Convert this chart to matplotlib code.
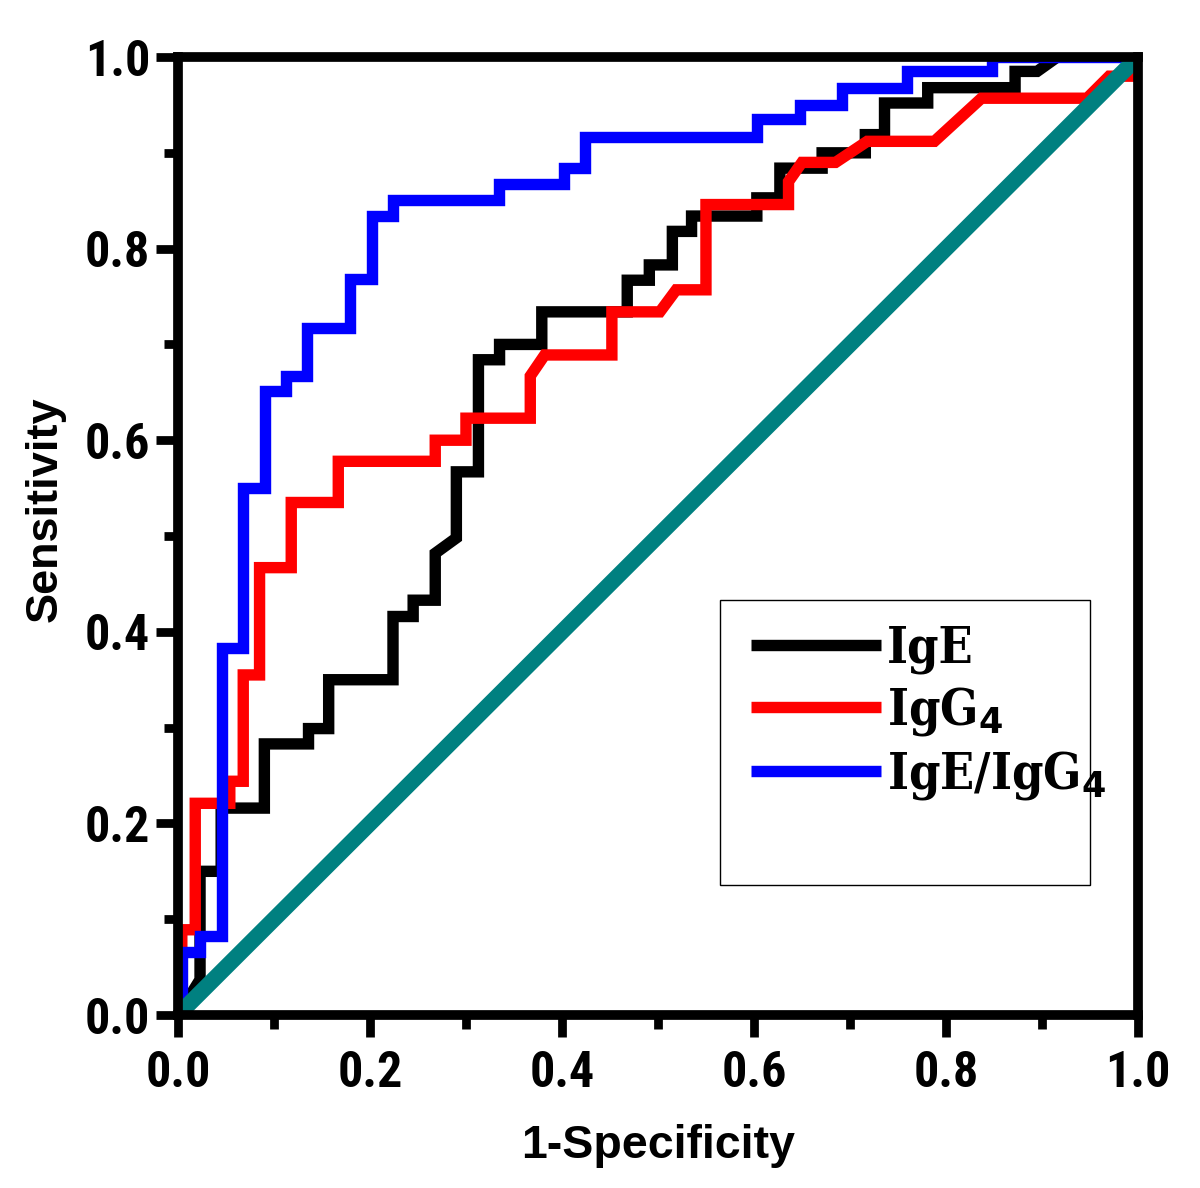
import matplotlib
matplotlib.use("Agg")
import matplotlib.pyplot as plt
from matplotlib import font_manager
from matplotlib.font_manager import FontProperties
from matplotlib.patches import Rectangle
from matplotlib.ticker import MultipleLocator

# ---- data (ROC step vertices) ----
ige_x = [0.0, 0.023, 0.023, 0.045, 0.045, 0.090, 0.090, 0.136, 0.136, 0.157, 0.157,
         0.224, 0.224, 0.245, 0.245, 0.268, 0.268, 0.290, 0.290, 0.313, 0.313, 0.335,
         0.335, 0.379, 0.379, 0.468, 0.468, 0.491, 0.491, 0.515, 0.515, 0.535, 0.535,
         0.603, 0.603, 0.627, 0.627, 0.671, 0.671, 0.716, 0.716, 0.736, 0.736, 0.781,
         0.781, 0.872, 0.872, 0.895, 0.916, 1.0]
ige_y = [0.0, 0.037, 0.150, 0.150, 0.216, 0.216, 0.283, 0.283, 0.299, 0.299, 0.350,
         0.350, 0.416, 0.416, 0.433, 0.433, 0.482, 0.498, 0.567, 0.567, 0.684, 0.684,
         0.700, 0.700, 0.734, 0.734, 0.767, 0.767, 0.783, 0.783, 0.818, 0.818, 0.834,
         0.834, 0.853, 0.853, 0.884, 0.884, 0.900, 0.900, 0.919, 0.919, 0.952, 0.952,
         0.968, 0.968, 0.985, 0.985, 1.0, 1.0]

igg4_x = [0.004, 0.004, 0.018, 0.018, 0.054, 0.054, 0.068, 0.068, 0.085, 0.085, 0.118,
          0.118, 0.167, 0.167, 0.268, 0.268, 0.300, 0.300, 0.367, 0.367, 0.382, 0.452,
          0.452, 0.502, 0.519, 0.550, 0.550, 0.636, 0.636, 0.650, 0.685, 0.718, 0.788,
          0.837, 0.947, 0.970, 1.0, 1.0]
igg4_y = [0.0, 0.089, 0.089, 0.221, 0.221, 0.244, 0.244, 0.355, 0.355, 0.467, 0.467,
          0.535, 0.535, 0.578, 0.578, 0.600, 0.600, 0.623, 0.623, 0.667, 0.689, 0.689,
          0.734, 0.734, 0.757, 0.757, 0.846, 0.846, 0.870, 0.890, 0.890, 0.912, 0.912,
          0.957, 0.957, 0.980, 0.980, 1.0]

ratio_x = [0.004, 0.004, 0.023, 0.023, 0.0455, 0.0455, 0.068, 0.068, 0.0906, 0.0906,
           0.113, 0.113, 0.134, 0.134, 0.179, 0.179, 0.2017, 0.2017, 0.224, 0.224,
           0.334, 0.334, 0.402, 0.402, 0.4235, 0.4235, 0.603, 0.603, 0.648, 0.648,
           0.692, 0.692, 0.759, 0.759, 0.848, 0.848, 1.0]
ratio_y = [0.0, 0.066, 0.066, 0.082, 0.082, 0.383, 0.383, 0.550, 0.550, 0.651,
           0.651, 0.667, 0.667, 0.717, 0.717, 0.768, 0.768, 0.834, 0.834, 0.851,
           0.851, 0.867, 0.867, 0.884, 0.884, 0.917, 0.917, 0.935, 0.935, 0.950,
           0.950, 0.968, 0.968, 0.985, 0.985, 1.0, 1.0]

ref_x = [0.0, 1.0]
ref_y = [0.0, 1.0]

labels = ["IgE", r"IgG$_\mathbf{4}$", r"IgE/IgG$_\mathbf{4}$"]
x_ticks = [0.0, 0.2, 0.4, 0.6, 0.8, 1.0]
y_ticks = [0.0, 0.2, 0.4, 0.6, 0.8, 1.0]


# ---- find a bold condensed font file if one is installed ----
def _w(f):
    w = f.weight
    if isinstance(w, str):
        w = font_manager.weight_dict.get(w, 400)
    return w


def find_bold_condensed(serif):
    out = []
    for f in font_manager.fontManager.ttflist:
        n = f.name
        cond = ("Narrow" in n or "Condensed" in n or
                f.stretch in ("condensed", "semi-condensed", "extra-condensed"))
        if not cond or "Mono" in n or f.style != "normal":
            continue
        if ("Serif" in n) != serif:
            continue
        w = _w(f)
        if w < 600:
            continue
        pref = 0 if "Liberation" in n else (1 if "Roboto" in n else 2)
        out.append((pref, abs(w - 700), f.fname))
    out.sort()
    return out[0][2] if out else None


sans_file = find_bold_condensed(False)
serif_file = find_bold_condensed(True)


def narrow_fp(size):
    if sans_file:
        return FontProperties(fname=sans_file, size=size)
    return FontProperties(family=["Liberation Sans", "DejaVu Sans"], weight="bold", size=size * 0.86)


def sans_fp(size):
    return FontProperties(family=["Liberation Sans", "DejaVu Sans"], weight="bold", size=size)


def serif_fp(size):
    if serif_file:
        return FontProperties(fname=serif_file, size=size)
    return FontProperties(family=["Liberation Serif", "DejaVu Serif"], weight="bold", size=size * 0.9)


fig = plt.figure(figsize=(12, 11.88), dpi=100)
ax = fig.add_axes([0.1483, 0.1456, 0.8, 0.8064])

lw = 8.2
kw = dict(solid_joinstyle="miter", solid_capstyle="butt")
l1, = ax.plot(ige_x, ige_y, color="black", lw=lw, zorder=2, **kw)
l2, = ax.plot(igg4_x, igg4_y, color="#ff0000", lw=lw, zorder=3, **kw)
l3, = ax.plot(ratio_x, ratio_y, color="#0000ff", lw=lw, zorder=4, **kw)
ax.plot(ref_x, ref_y, color="#008080", lw=11.5, zorder=5, solid_capstyle="butt")

ax.set_xlim(0, 1)
ax.set_ylim(0, 1)
for s in ax.spines.values():
    s.set_linewidth(7.0)
    s.set_zorder(6)

ax.set_xticks(x_ticks)
ax.set_yticks(y_ticks)
ax.set_xticklabels([f"{t:.1f}" for t in x_ticks])
ax.set_yticklabels([f"{t:.1f}" for t in y_ticks])
ax.xaxis.set_minor_locator(MultipleLocator(0.1))
ax.yaxis.set_minor_locator(MultipleLocator(0.1))
ax.tick_params(which="major", direction="out", length=16, width=6.3)
ax.tick_params(which="minor", direction="out", length=10, width=6.3)
ax.tick_params(axis="x", which="major", pad=9)
ax.tick_params(axis="y", which="major", pad=4)
for lab in ax.get_xticklabels() + ax.get_yticklabels():
    lab.set_fontproperties(narrow_fp(36))

ax.set_xlabel("1-Specificity", fontproperties=sans_fp(33.5))
ax.set_ylabel("Sensitivity", fontproperties=sans_fp(32.5))
ax.xaxis.set_label_coords(0.5, -0.114)
ax.yaxis.set_label_coords(-0.117, 0.528)

leg = ax.legend([l1, l2, l3], labels, loc="upper left",
                bbox_to_anchor=(0.55, 0.455), frameon=False,
                handlelength=2.6, handletextpad=0.12, labelspacing=0.22,
                prop=serif_fp(36))
for h in leg.legend_handles:
    h.set_linewidth(8.2)

ax.add_patch(Rectangle((0.5646, 0.1357), 0.95 - 0.5646, 0.4332 - 0.1357,
                       transform=ax.transAxes, fill=False, edgecolor="black",
                       lw=1.0, zorder=7))

fig.savefig("out.png", dpi=100)
